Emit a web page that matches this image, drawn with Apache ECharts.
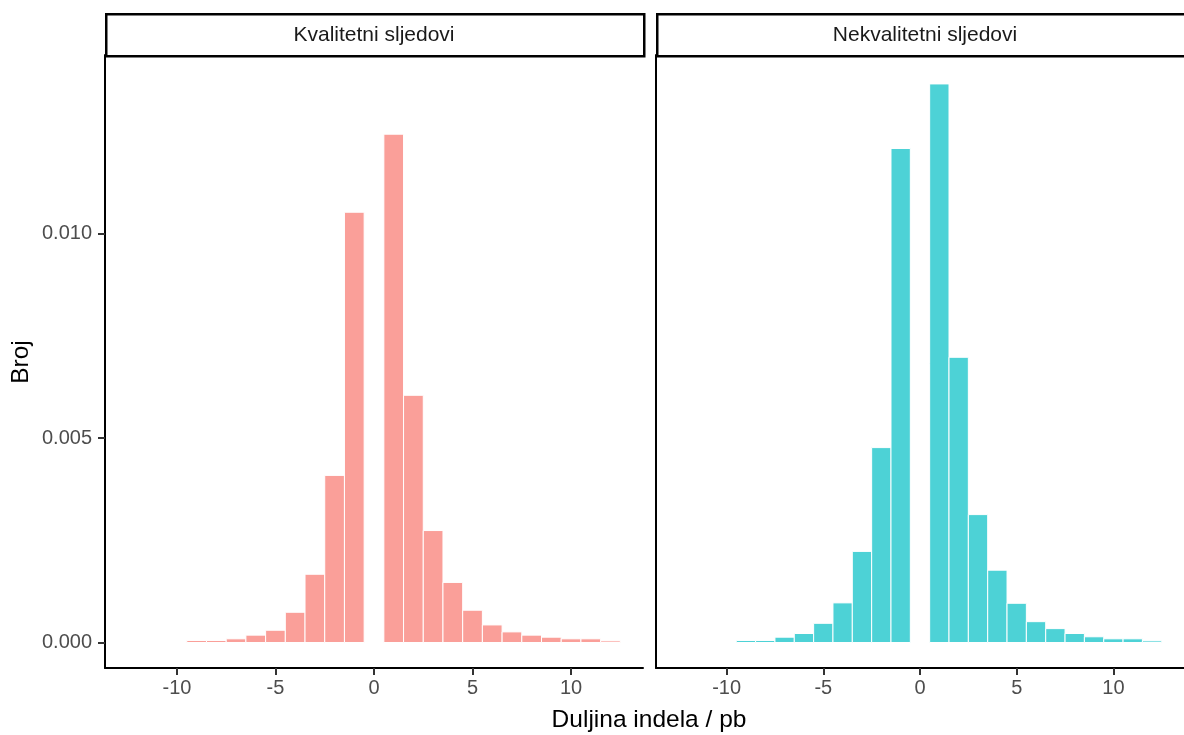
<!DOCTYPE html>
<html>
<head>
<meta charset="utf-8">
<script src="https://cdn.jsdelivr.net/npm/echarts@6/dist/echarts.min.js"></script>
<style>
html,body{margin:0;padding:0;background:#fff;}
#chart{width:1184px;height:735px;}
</style>
</head>
<body>
<div id="chart"></div>
<script>
// Bin centres (indel length, bp); no bin at 0
const binsNeg = [-9, -8, -7, -6, -5, -4, -3, -2, -1];
const binsPos = [1, 2, 3, 4, 5, 6, 7, 8, 9, 10, 11, 12];
const panelNames = ['Kvalitetni sljedovi', 'Nekvalitetni sljedovi'];
// Panel 1: Kvalitetni sljedovi
const goodNeg = [0.00005, 0.00005, 0.00009, 0.00018, 0.00030, 0.00074, 0.00167, 0.00409, 0.01053];
const goodPos = [0.01244, 0.00605, 0.00274, 0.00147, 0.00079, 0.00043, 0.00026, 0.00018, 0.00013, 0.00009, 0.00009, 0.00004];
// Panel 2: Nekvalitetni sljedovi
const badNeg = [0.00005, 0.00005, 0.00013, 0.00022, 0.00047, 0.00097, 0.00223, 0.00477, 0.01209];
const badPos = [0.01367, 0.00698, 0.00313, 0.00177, 0.00096, 0.00051, 0.00034, 0.00022, 0.00014, 0.00009, 0.00009, 0.00004];
const xTicks = [-10, -5, 0, 5, 10];
const yTicks = [0, 0.005, 0.010];
const xTitle = 'Duljina indela / pb';
const yTitle = 'Broj';

const FONT = '"Liberation Sans", Arial, sans-serif';
const bins = binsNeg.concat(binsPos);
const goodData = bins.map((b, i) => [b, goodNeg.concat(goodPos)[i]]);
const badData = bins.map((b, i) => [b, badNeg.concat(badPos)[i]]);

const panelW = 538, panelTop = 55, panelH = 613;
const lefts = [105, 656];

function xAxisFor(idx) {
  return {
    type: 'value', gridIndex: idx, min: -13.65, max: 13.65,
    axisLine: {show: true, onZero: false, lineStyle: {color: '#000', width: 2}},
    axisTick: {show: true, customValues: xTicks, length: 7, lineStyle: {color: '#333', width: 2}},
    axisLabel: {show: true, customValues: xTicks, margin: 10, color: '#4D4D4D', fontSize: 20, fontFamily: FONT},
    splitLine: {show: false}
  };
}
function yAxisFor(idx) {
  return {
    type: 'value', gridIndex: idx, min: -0.000624, max: 0.014378,
    axisLine: {show: true, onZero: false, lineStyle: {color: '#000', width: 2}},
    axisTick: {show: idx === 0, customValues: yTicks, length: 7, lineStyle: {color: '#333', width: 2}},
    axisLabel: {show: idx === 0, customValues: yTicks, margin: 13, color: '#4D4D4D', fontSize: 20, fontFamily: FONT,
      formatter: v => v.toFixed(3)},
    splitLine: {show: false}
  };
}
function histSeries(idx, data, color) {
  return {
    type: 'custom', xAxisIndex: idx, yAxisIndex: idx, data: data, clip: true,
    renderItem: function (params, api) {
      const x = api.value(0), y = api.value(1);
      const p0 = api.coord([x - 0.5, y]);
      const p1 = api.coord([x + 0.5, 0]);
      return {
        type: 'rect',
        shape: {x: p0[0], y: p0[1], width: p1[0] - p0[0], height: p1[1] - p0[1]},
        style: {fill: color, stroke: '#ffffff', lineWidth: 1}
      };
    }
  };
}

const graphics = [];
lefts.forEach((l, i) => {
  graphics.push({type: 'rect', left: l, top: 13, shape: {x: 0, y: 0, width: panelW, height: 42},
    style: {fill: '#fff', stroke: '#000', lineWidth: 2.5}, z: 10});
  graphics.push({type: 'text', x: l + panelW / 2, y: 35, z: 11,
    style: {text: panelNames[i], fill: '#1A1A1A', font: '21px ' + FONT, textAlign: 'center', textVerticalAlign: 'middle'}});
});
graphics.push({type: 'text', x: 649, y: 720, z: 11,
  style: {text: xTitle, fill: '#000', font: '24.5px ' + FONT, textAlign: 'center', textVerticalAlign: 'middle'}});
graphics.push({type: 'text', x: 21, y: 362, rotation: Math.PI / 2, z: 11,
  style: {text: yTitle, fill: '#000', font: '24.5px ' + FONT, textAlign: 'center', textVerticalAlign: 'middle'}});

const chart = echarts.init(document.getElementById('chart'), null, {renderer: 'canvas'});
chart.setOption({
  animation: false,
  backgroundColor: '#ffffff',
  grid: lefts.map(l => ({left: l, top: panelTop, width: panelW, height: panelH, containLabel: false})),
  xAxis: [xAxisFor(0), xAxisFor(1)],
  yAxis: [yAxisFor(0), yAxisFor(1)],
  series: [histSeries(0, goodData, '#FA9F99'), histSeries(1, badData, '#4DD2D6')],
  graphic: graphics
});
</script>
</body>
</html>
